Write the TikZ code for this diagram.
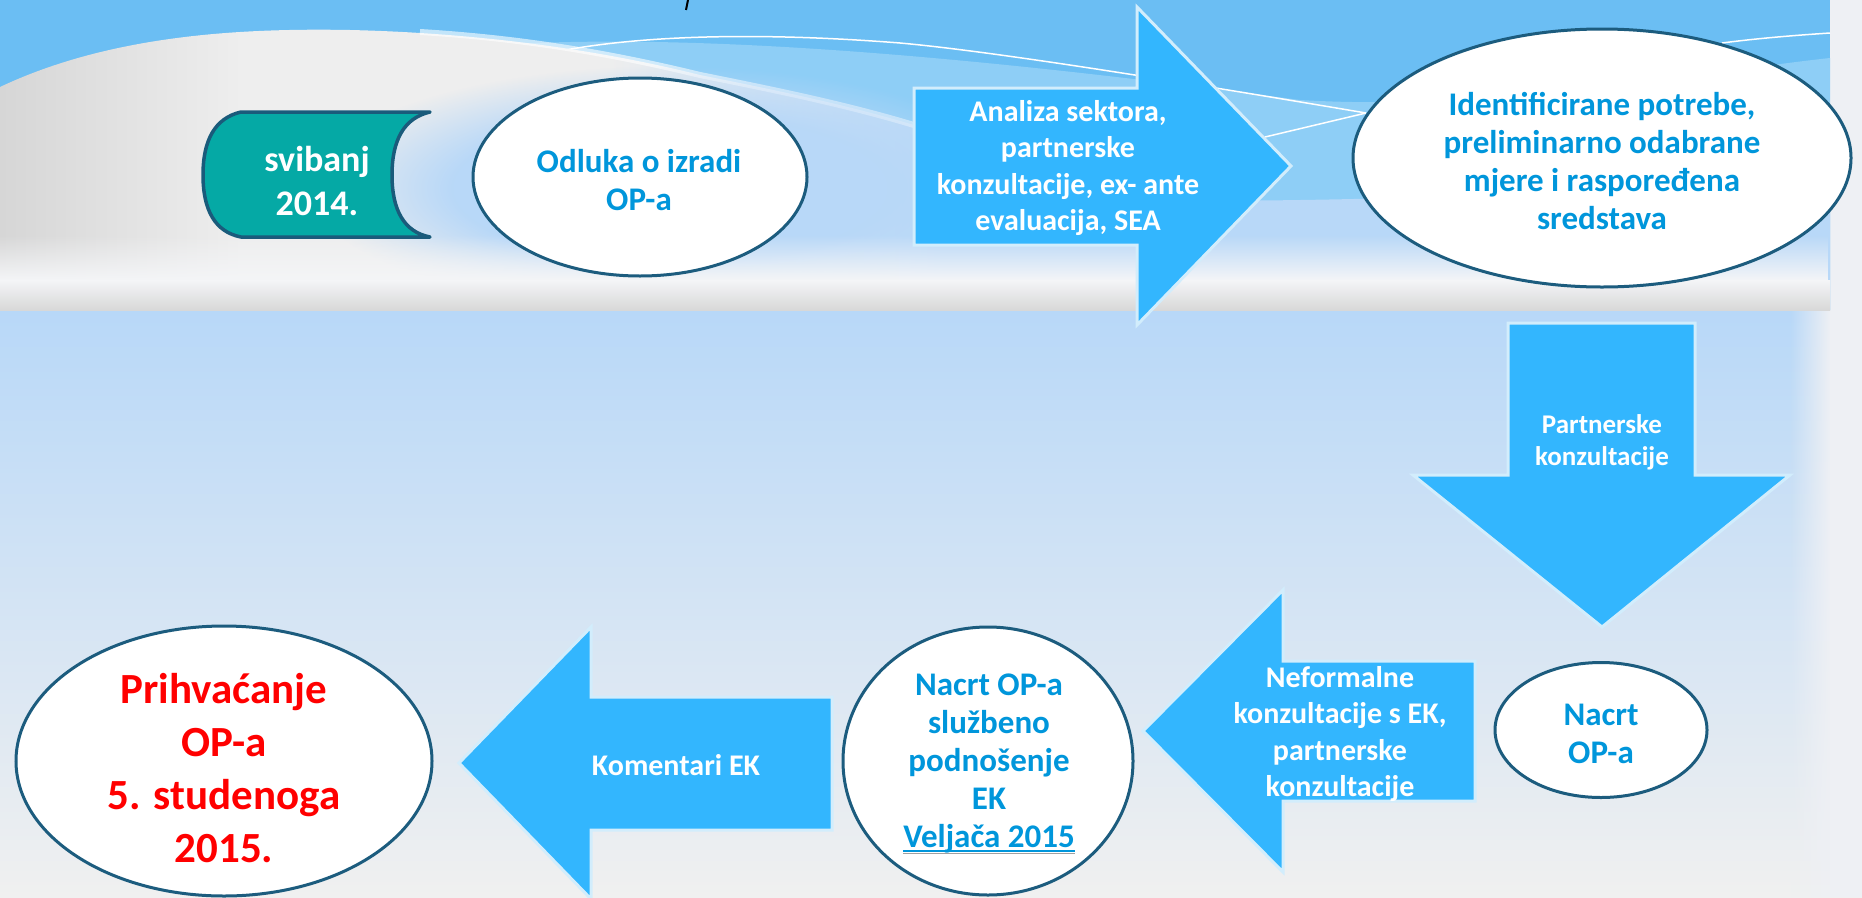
\documentclass[tikz,border=0pt]{standalone}
\usepackage{fontspec}
\setmainfont{Carlito}
\usetikzlibrary{shapes.geometric,fadings}
\definecolor{sky}{HTML}{6BBEF3}
\definecolor{skylight}{HTML}{8ECEF6}
\definecolor{lb}{HTML}{B8D8F8}
\definecolor{bggrey}{HTML}{F0F0F0}
\definecolor{hillA}{HTML}{D6D6D6}
\definecolor{hillB}{HTML}{EEEEEE}
\definecolor{bandgrey}{HTML}{D8D8D8}
\definecolor{bandwhite}{HTML}{F4F5F7}
\definecolor{ellline}{HTML}{1C5C7E}
\definecolor{txtblue}{HTML}{0096DB}
\definecolor{arrfill}{HTML}{33B6FE}
\definecolor{arredge}{HTML}{D2EDFC}
\definecolor{tealfill}{HTML}{05A9A5}
\definecolor{tealline}{HTML}{1A5B7B}
\definecolor{stripe}{HTML}{EEF0F4}
\definecolor{redtxt}{HTML}{FF0000}
\definecolor{ulgray}{HTML}{A0A0A0}
\pgfdeclarehorizontalshading{hillshade}{100bp}{color(0bp)=(hillA); color(25bp)=(hillA); color(37bp)=(hillB); color(55bp)=(hillB); color(72bp)=(lb); color(100bp)=(lb)}
\pgfdeclareradialshading{blobfs}{\pgfpointorigin}{color(0bp)=(white); color(15bp)=(white); color(25bp)=(black); color(50bp)=(black)}
\pgfdeclarefading{blobfade}{\pgfuseshading{blobfs}}
\tikzfading[name=fadeleft, left color=transparent!100, right color=transparent!0]
\tikzfading[name=fadeup, top color=transparent!100, bottom color=transparent!0]
\newcommand\vlul[1]{\setbox0=\hbox{#1}\rlap{\color{ulgray}\rule[-6.5pt]{\wd0}{1.5pt}}\rlap{\rule[-4.5pt]{\wd0}{1.8pt}}\box0}
\tikzset{
  ell/.style={ellipse, draw=ellline, line width=3pt, fill=white, inner sep=0pt},
  bluetxt/.style={text=txtblue, font={\bfseries\fontsize{33}{38}\selectfont}, align=center},
  redbig/.style={text=redtxt, font={\bfseries\fontsize{43}{53}\selectfont}, align=center},
  wtxt/.style={text=white, font={\bfseries\fontsize{30}{36.5}\selectfont}, align=center},
  wsmall/.style={text=white, font={\bfseries\fontsize{27}{32}\selectfont}, align=center},
  wteal/.style={text=white, font={\bfseries\fontsize{36}{44}\selectfont}, align=center},
  barrow/.style={fill=arrfill, draw=arredge, line width=3pt, line join=miter},
  tealshape/.style={fill=tealfill, draw=tealline, line width=3.5pt, line join=round},
  skyline/.style={white, line width=1.5pt}
}
\begin{document}
\begin{tikzpicture}[x=1pt,y=-1pt]
\useasboundingbox (0,0) rectangle (1862,897);
% lower background
\shade[top color=lb, bottom color=bggrey] (0,310) rectangle (1862,897);
% right strip
\fill[stripe] (1830,0) rectangle (1862,897);
\fill[stripe, path fading=fadeleft] (1790,310) rectangle (1830,897);
% top panel
\fill[sky] (0,0) rectangle (1830,310);
\fill[skylight] (480,310) -- (480,46) .. controls (700,30) and (1000,60) .. (1300,100) .. controls (1500,112) and (1700,72) .. (1830,58) -- (1830,310) -- cycle;
\fill[lb] (0,310) -- (0,190) .. controls (500,180) and (1000,205) .. (1300,200) .. controls (1500,197) and (1700,185) .. (1830,185) -- (1830,310) -- cycle;
\draw[skyline] (555,52) .. controls (640,35) and (760,32) .. (900,43) .. controls (1000,52) and (1200,85) .. (1366,113);
\draw[skyline] (1265,137) -- (1366,113);
\draw[skyline] (1722,43) .. controls (1760,38) and (1800,35) .. (1830,33);
% grey hill
\shade[shading=hillshade] (0,310) -- (0,87) .. controls (110,35) and (240,28) .. (350,30) .. controls (480,33) and (600,50) .. (700,75) .. controls (800,95) and (880,112) .. (960,140) -- (1010,180) -- (1010,310) -- cycle;
\draw[white, line width=6pt, opacity=.6] (420,32) .. controls (520,38) and (610,53) .. (700,75) .. controls (800,95) and (880,112) .. (960,140);
\fill[lb, path fading=blobfade] (670,188) ellipse [x radius=360, y radius=122];
% bottom band of top panel
\fill[bandwhite, path fading=fadeup] (0,235) rectangle (1830,280);
\shade[top color=bandwhite, bottom color=bandgrey] (0,280) rectangle (1830,310);
\draw[black, line width=2pt] (688,0) -- (686,10);
% teal date shape
\draw[tealshape] (241,112) -- (430,112) .. controls (404,118) and (392,140) .. (392,175) .. controls (392,210) and (404,232) .. (430,237) -- (241,237) .. controls (215,232) and (203,210) .. (203,175) .. controls (203,140) and (215,118) .. (241,112) -- cycle;
\node[wteal] (tealt) at (317,181) {svibanj\\2014.};
% Odluka
\node[ell, minimum width=334pt, minimum height=198pt] (odl) at (640,177) {};
\node[bluetxt] (odlt) at (639,180) {Odluka o izradi\\OP-a};
% Analiza arrow
\path[barrow] (914,88) -- (1137,88) -- (1137,7) -- (1291,166) -- (1137,325) -- (1137,245) -- (914,245) -- cycle;
\node[wtxt] (anat) at (1068,168) {Analiza sektora,\\partnerske\\konzultacije, ex- ante\\evaluacija, SEA};
% Identificirane
\node[ell, minimum width=498pt, minimum height=258pt] (ide) at (1602,158) {};
\node[bluetxt] (idet) at (1602,161) {Identificirane potrebe,\\preliminarno odabrane\\mjere i raspoređena\\sredstava};
% down arrow
\path[barrow] (1508,323) -- (1695,323) -- (1695,475) -- (1790,475) -- (1602,627) -- (1413,475) -- (1508,475) -- cycle;
\node[wsmall] (part) at (1602,442) {Partnerske\\konzultacije};
% Nacrt small
\node[ell, minimum width=212pt, minimum height=135pt] (nac) at (1601,730) {};
\node[bluetxt] (nact) at (1601,734) {Nacrt\\OP-a};
% Neformalne arrow
\path[barrow] (1475,661) -- (1475,801) -- (1283,801) -- (1283,872) -- (1143,731) -- (1283,590) -- (1283,661) -- cycle;
\node[wtxt] (neft) at (1340,734) {Neformalne\\konzultacije s EK,\\partnerske\\konzultacije};
% Nacrt službeno
\node[ell, minimum width=290pt, minimum height=268pt] (nsl) at (988,761) {};
\node[bluetxt] (nslt) at (989,764) {Nacrt OP-a\\službeno\\podnošenje\\EK\\\vlul{Veljača 2015}};
% Komentari arrow
\path[barrow] (832,697) -- (832,830) -- (591,830) -- (591,899) -- (459,763) -- (591,627) -- (591,697) -- cycle;
\node[wtxt] (komt) at (676,765) {Komentari EK};
% Prihvaćanje
\node[ell, minimum width=416pt, minimum height=270pt] (pri) at (224,761) {};
\node[redbig] (prit) at (224,768) {Prihvaćanje\\OP-a\\5. studenoga\\2015.};
\end{tikzpicture}
\end{document}
